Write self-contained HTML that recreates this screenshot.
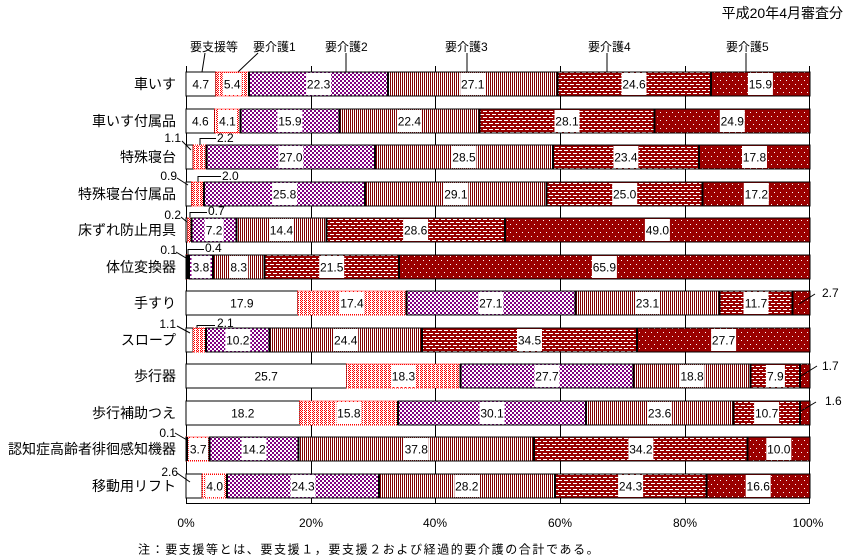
<!DOCTYPE html>
<html><head><meta charset="utf-8"><style>
html,body{margin:0;padding:0;background:#fff}
svg{display:block}
.j{font-family:"Liberation Sans","Noto Sans CJK JP",sans-serif}
.n{font-family:"Liberation Sans",sans-serif;font-size:12px}
.bars rect{stroke:#000;stroke-width:1}
.bars rect.s1{stroke:#f00;stroke-dasharray:1 1}
.s0{fill:#fff}.s1{fill:url(#p1)}.s2{fill:url(#p2)}.s3{fill:url(#p3)}.s4{fill:url(#p4)}.s5{fill:url(#p5)}
.bx rect{fill:#fff;stroke:none}
.ln{stroke:#000;stroke-width:1;fill:none}
</style></head><body>
<svg width="850" height="559" viewBox="0 0 850 559" xmlns="http://www.w3.org/2000/svg">
<defs>
<pattern id="p1" width="4" height="2" patternUnits="userSpaceOnUse"><rect width="4" height="2" fill="#fff"/><rect x="0" y="0" width="1" height="1" fill="#f00"/><rect x="2" y="0" width="1" height="1" fill="#f00"/><rect x="1" y="1" width="1" height="1" fill="#f00"/></pattern>
<pattern id="p2" width="4" height="4" patternUnits="userSpaceOnUse"><rect width="4" height="4" fill="#fff"/><rect width="2" height="2" fill="#800080"/><rect x="2" y="2" width="2" height="2" fill="#800080"/></pattern>
<pattern id="p3" width="2" height="2" patternUnits="userSpaceOnUse"><rect width="2" height="2" fill="#fff"/><rect width="1" height="2" fill="#800000"/></pattern>
<pattern id="p4" width="6" height="6" patternUnits="userSpaceOnUse"><rect width="6" height="6" fill="#990000"/><rect x="0" y="0" width="4" height="1" fill="#fff"/><rect x="3" y="3" width="3" height="1" fill="#fff"/><rect x="0" y="3" width="1" height="1" fill="#fff"/></pattern>
<pattern id="p5" width="6" height="8" patternUnits="userSpaceOnUse"><rect width="6" height="8" fill="#9a0000"/><rect x="0" y="0" width="1" height="1" fill="#fff"/><rect x="3" y="4" width="1" height="1" fill="#fff"/></pattern>
</defs>

<text class="j" x="843" y="18" font-size="14" text-anchor="end">平成20年4月審査分</text>

<g shape-rendering="crispEdges" stroke="#000" stroke-width="1">
<line x1="186.5" y1="66" x2="186.5" y2="504"/>
<line x1="311.5" y1="66" x2="311.5" y2="504"/>
<line x1="435.5" y1="66" x2="435.5" y2="504"/>
<line x1="560.5" y1="66" x2="560.5" y2="504"/>
<line x1="685.5" y1="66" x2="685.5" y2="504"/>
<line x1="809.5" y1="66" x2="809.5" y2="504"/>
<line x1="186" y1="503.5" x2="810" y2="503.5"/>
</g>

<g class="j" font-size="12">
<text x="190" y="51">要支援等</text>
<text x="253" y="51">要介護1</text>
<text x="325" y="51">要介護2</text>
<text x="445" y="51">要介護3</text>
<text x="588" y="51">要介護4</text>
<text x="726" y="51">要介護5</text>
</g>
<g class="ln">
<line x1="205" y1="53" x2="202" y2="72"/>
<line x1="258" y1="53" x2="238" y2="72"/>
<line x1="346" y1="53" x2="346" y2="72"/>
<line x1="467" y1="53" x2="467" y2="72"/>
<line x1="607" y1="53" x2="607" y2="72"/>
<line x1="746" y1="53" x2="746" y2="72"/>
</g>

<g class="bars" shape-rendering="crispEdges">
<rect class="s0" x="186" y="72" width="29.33" height="24"/>
<rect class="s1" x="215.33" y="72" width="33.69" height="24"/>
<rect class="s2" x="249.02" y="72" width="139.16" height="24"/>
<rect class="s3" x="388.18" y="72" width="169.10" height="24"/>
<rect class="s4" x="557.28" y="72" width="153.50" height="24"/>
<rect class="s5" x="710.78" y="72" width="99.22" height="24"/>
<rect class="s0" x="186" y="109" width="28.70" height="24"/>
<rect class="s1" x="214.70" y="109" width="25.59" height="24"/>
<rect class="s2" x="240.29" y="109" width="99.21" height="24"/>
<rect class="s3" x="339.50" y="109" width="139.78" height="24"/>
<rect class="s4" x="479.28" y="109" width="175.34" height="24"/>
<rect class="s5" x="654.62" y="109" width="155.38" height="24"/>
<rect class="s0" x="186" y="145" width="6.86" height="24"/>
<rect class="s1" x="192.86" y="145" width="13.73" height="24"/>
<rect class="s2" x="206.59" y="145" width="168.48" height="24"/>
<rect class="s3" x="375.07" y="145" width="177.84" height="24"/>
<rect class="s4" x="552.91" y="145" width="146.02" height="24"/>
<rect class="s5" x="698.93" y="145" width="111.07" height="24"/>
<rect class="s0" x="186" y="182" width="5.62" height="24"/>
<rect class="s1" x="191.62" y="182" width="12.48" height="24"/>
<rect class="s2" x="204.10" y="182" width="160.99" height="24"/>
<rect class="s3" x="365.09" y="182" width="181.58" height="24"/>
<rect class="s4" x="546.67" y="182" width="156.00" height="24"/>
<rect class="s5" x="702.67" y="182" width="107.33" height="24"/>
<rect class="s0" x="186" y="218" width="1.25" height="24"/>
<rect class="s1" x="187.25" y="218" width="4.37" height="24"/>
<rect class="s2" x="191.62" y="218" width="44.92" height="24"/>
<rect class="s3" x="236.54" y="218" width="89.86" height="24"/>
<rect class="s4" x="326.40" y="218" width="178.46" height="24"/>
<rect class="s5" x="504.86" y="218" width="305.14" height="24"/>
<rect class="s0" x="186" y="255" width="0.62" height="24"/>
<rect class="s1" x="186.62" y="255" width="2.50" height="24"/>
<rect class="s2" x="189.12" y="255" width="23.71" height="24"/>
<rect class="s3" x="212.83" y="255" width="51.79" height="24"/>
<rect class="s4" x="264.62" y="255" width="134.16" height="24"/>
<rect class="s5" x="398.78" y="255" width="411.22" height="24"/>
<rect class="s0" x="186" y="291" width="111.70" height="24"/>
<rect class="s1" x="297.70" y="291" width="108.57" height="24"/>
<rect class="s2" x="406.27" y="291" width="169.11" height="24"/>
<rect class="s3" x="575.38" y="291" width="144.14" height="24"/>
<rect class="s4" x="719.52" y="291" width="73.01" height="24"/>
<rect class="s5" x="792.53" y="291" width="17.47" height="24"/>
<rect class="s0" x="186" y="328" width="6.86" height="24"/>
<rect class="s1" x="192.86" y="328" width="13.11" height="24"/>
<rect class="s2" x="205.97" y="328" width="63.65" height="24"/>
<rect class="s3" x="269.62" y="328" width="152.25" height="24"/>
<rect class="s4" x="421.87" y="328" width="215.28" height="24"/>
<rect class="s5" x="637.15" y="328" width="172.85" height="24"/>
<rect class="s0" x="186" y="364" width="160.37" height="24"/>
<rect class="s1" x="346.37" y="364" width="114.19" height="24"/>
<rect class="s2" x="460.56" y="364" width="172.85" height="24"/>
<rect class="s3" x="633.41" y="364" width="117.31" height="24"/>
<rect class="s4" x="750.72" y="364" width="49.30" height="24"/>
<rect class="s5" x="800.02" y="364" width="9.98" height="24"/>
<rect class="s0" x="186" y="401" width="113.57" height="24"/>
<rect class="s1" x="299.57" y="401" width="98.59" height="24"/>
<rect class="s2" x="398.16" y="401" width="187.82" height="24"/>
<rect class="s3" x="585.98" y="401" width="147.27" height="24"/>
<rect class="s4" x="733.25" y="401" width="66.77" height="24"/>
<rect class="s5" x="800.02" y="401" width="9.98" height="24"/>
<rect class="s0" x="186" y="437" width="0.62" height="24"/>
<rect class="s1" x="186.62" y="437" width="23.09" height="24"/>
<rect class="s2" x="209.71" y="437" width="88.61" height="24"/>
<rect class="s3" x="298.32" y="437" width="235.87" height="24"/>
<rect class="s4" x="534.19" y="437" width="213.41" height="24"/>
<rect class="s5" x="747.60" y="437" width="62.40" height="24"/>
<rect class="s0" x="186" y="474" width="16.22" height="24"/>
<rect class="s1" x="202.22" y="474" width="24.96" height="24"/>
<rect class="s2" x="227.18" y="474" width="151.64" height="24"/>
<rect class="s3" x="378.82" y="474" width="175.96" height="24"/>
<rect class="s4" x="554.78" y="474" width="151.64" height="24"/>
<rect class="s5" x="706.42" y="474" width="103.58" height="24"/>
</g>

<g stroke="#000" stroke-width="2" shape-rendering="crispEdges">
<line x1="249.02" y1="72" x2="249.02" y2="96"/><line x1="388.18" y1="72" x2="388.18" y2="96"/><line x1="557.28" y1="72" x2="557.28" y2="96"/><line x1="710.78" y1="72" x2="710.78" y2="96"/>
<line x1="240.29" y1="109" x2="240.29" y2="133"/><line x1="339.50" y1="109" x2="339.50" y2="133"/><line x1="479.28" y1="109" x2="479.28" y2="133"/><line x1="654.62" y1="109" x2="654.62" y2="133"/>
<line x1="206.59" y1="145" x2="206.59" y2="169"/><line x1="375.07" y1="145" x2="375.07" y2="169"/><line x1="552.91" y1="145" x2="552.91" y2="169"/><line x1="698.93" y1="145" x2="698.93" y2="169"/>
<line x1="204.10" y1="182" x2="204.10" y2="206"/><line x1="365.09" y1="182" x2="365.09" y2="206"/><line x1="546.67" y1="182" x2="546.67" y2="206"/><line x1="702.67" y1="182" x2="702.67" y2="206"/>
<line x1="191.62" y1="218" x2="191.62" y2="242"/><line x1="236.54" y1="218" x2="236.54" y2="242"/><line x1="326.40" y1="218" x2="326.40" y2="242"/><line x1="504.86" y1="218" x2="504.86" y2="242"/>
<line x1="187" y1="255" x2="187" y2="279"/><line x1="189.12" y1="255" x2="189.12" y2="279"/><line x1="212.83" y1="255" x2="212.83" y2="279"/><line x1="264.62" y1="255" x2="264.62" y2="279"/><line x1="398.78" y1="255" x2="398.78" y2="279"/>
<line x1="406.27" y1="291" x2="406.27" y2="315"/><line x1="575.38" y1="291" x2="575.38" y2="315"/><line x1="719.52" y1="291" x2="719.52" y2="315"/><line x1="792.53" y1="291" x2="792.53" y2="315"/>
<line x1="205.97" y1="328" x2="205.97" y2="352"/><line x1="269.62" y1="328" x2="269.62" y2="352"/><line x1="421.87" y1="328" x2="421.87" y2="352"/><line x1="637.15" y1="328" x2="637.15" y2="352"/>
<line x1="460.56" y1="364" x2="460.56" y2="388"/><line x1="633.41" y1="364" x2="633.41" y2="388"/><line x1="750.72" y1="364" x2="750.72" y2="388"/><line x1="800.02" y1="364" x2="800.02" y2="388"/>
<line x1="398.16" y1="401" x2="398.16" y2="425"/><line x1="585.98" y1="401" x2="585.98" y2="425"/><line x1="733.25" y1="401" x2="733.25" y2="425"/><line x1="800.02" y1="401" x2="800.02" y2="425"/>
<line x1="187" y1="437" x2="187" y2="461"/><line x1="209.71" y1="437" x2="209.71" y2="461"/><line x1="298.32" y1="437" x2="298.32" y2="461"/><line x1="534.19" y1="437" x2="534.19" y2="461"/><line x1="747.60" y1="437" x2="747.60" y2="461"/>
<line x1="227.18" y1="474" x2="227.18" y2="498"/><line x1="378.82" y1="474" x2="378.82" y2="498"/><line x1="554.78" y1="474" x2="554.78" y2="498"/><line x1="706.42" y1="474" x2="706.42" y2="498"/>
</g>

<g class="bx">
<rect x="191.2" y="73" width="19" height="22"/><rect x="222.7" y="73" width="19" height="22"/><rect x="306.1" y="73" width="25" height="22"/><rect x="460.2" y="73" width="25" height="22"/><rect x="621.5" y="73" width="25" height="22"/><rect x="747.9" y="73" width="25" height="22"/>
<rect x="190.9" y="110" width="19" height="22"/><rect x="218.0" y="110" width="19" height="22"/><rect x="277.4" y="110" width="25" height="22"/><rect x="396.9" y="110" width="25" height="22"/><rect x="554.5" y="110" width="25" height="22"/><rect x="719.8" y="110" width="25" height="22"/>
<rect x="278.3" y="146" width="25" height="22"/><rect x="451.5" y="146" width="25" height="22"/><rect x="613.4" y="146" width="25" height="22"/><rect x="742.0" y="146" width="25" height="22"/>
<rect x="272.1" y="183" width="25" height="22"/><rect x="443.4" y="183" width="25" height="22"/><rect x="612.2" y="183" width="25" height="22"/><rect x="743.8" y="183" width="25" height="22"/>
<rect x="204.6" y="219" width="19" height="22"/><rect x="269.0" y="219" width="25" height="22"/><rect x="403.1" y="219" width="25" height="22"/><rect x="644.9" y="219" width="25" height="22"/>
<rect x="191.5" y="256" width="19" height="22"/><rect x="229.2" y="256" width="19" height="22"/><rect x="319.2" y="256" width="25" height="22"/><rect x="591.9" y="256" width="25" height="22"/>
<rect x="229.4" y="292" width="25" height="22"/><rect x="339.5" y="292" width="25" height="22"/><rect x="478.3" y="292" width="25" height="22"/><rect x="635.0" y="292" width="25" height="22"/><rect x="743.5" y="292" width="25" height="22"/>
<rect x="225.3" y="329" width="25" height="22"/><rect x="333.2" y="329" width="25" height="22"/><rect x="517.0" y="329" width="25" height="22"/><rect x="711.1" y="329" width="25" height="22"/>
<rect x="253.7" y="365" width="25" height="22"/><rect x="391.0" y="365" width="25" height="22"/><rect x="534.5" y="365" width="25" height="22"/><rect x="679.6" y="365" width="25" height="22"/><rect x="765.9" y="365" width="19" height="22"/>
<rect x="230.3" y="402" width="25" height="22"/><rect x="336.4" y="402" width="25" height="22"/><rect x="479.6" y="402" width="25" height="22"/><rect x="647.1" y="402" width="25" height="22"/><rect x="754.1" y="402" width="25" height="22"/>
<rect x="188.7" y="438" width="19" height="22"/><rect x="241.5" y="438" width="25" height="22"/><rect x="403.8" y="438" width="25" height="22"/><rect x="628.4" y="438" width="25" height="22"/><rect x="766.3" y="438" width="25" height="22"/>
<rect x="205.2" y="475" width="19" height="22"/><rect x="290.5" y="475" width="25" height="22"/><rect x="454.3" y="475" width="25" height="22"/><rect x="618.1" y="475" width="25" height="22"/><rect x="745.7" y="475" width="25" height="22"/>
</g>

<g class="n" text-anchor="middle">
<text x="200.67" y="88.5">4.7</text><text x="232.18" y="88.5">5.4</text><text x="318.6" y="88.5">22.3</text><text x="472.73" y="88.5">27.1</text><text x="634.03" y="88.5">24.6</text><text x="760.39" y="88.5">15.9</text>
<text x="200.35" y="125.5">4.6</text><text x="227.5" y="125.5">4.1</text><text x="289.9" y="125.5">15.9</text><text x="409.39" y="125.5">22.4</text><text x="566.95" y="125.5">28.1</text><text x="732.31" y="125.5">24.9</text>
<text x="290.83" y="161.5">27.0</text><text x="463.99" y="161.5">28.5</text><text x="625.92" y="161.5">23.4</text><text x="754.47" y="161.5">17.8</text>
<text x="284.59" y="198.5">25.8</text><text x="455.88" y="198.5">29.1</text><text x="624.67" y="198.5">25.0</text><text x="756.33" y="198.5">17.2</text>
<text x="214.08" y="234.5">7.2</text><text x="281.47" y="234.5">14.4</text><text x="415.63" y="234.5">28.6</text><text x="657.43" y="234.5">49.0</text>
<text x="200.98" y="271.5">3.8</text><text x="238.73" y="271.5">8.3</text><text x="331.7" y="271.5">21.5</text><text x="604.39" y="271.5">65.9</text>
<text x="241.85" y="307.5">17.9</text><text x="351.98" y="307.5">17.4</text><text x="490.82" y="307.5">27.1</text><text x="647.45" y="307.5">23.1</text><text x="756.02" y="307.5">11.7</text>
<text x="237.79" y="344.5">10.2</text><text x="345.74" y="344.5">24.4</text><text x="529.51" y="344.5">34.5</text><text x="723.58" y="344.5">27.7</text>
<text x="266.18" y="380.5">25.7</text><text x="403.46" y="380.5">18.3</text><text x="546.98" y="380.5">27.7</text><text x="692.06" y="380.5">18.8</text><text x="775.37" y="380.5">7.9</text>
<text x="242.78" y="417.5">18.2</text><text x="348.86" y="417.5">15.8</text><text x="492.07" y="417.5">30.1</text><text x="659.61" y="417.5">23.6</text><text x="766.63" y="417.5">10.7</text>
<text x="198.17" y="453.5">3.7</text><text x="254.02" y="453.5">14.2</text><text x="416.26" y="453.5">37.8</text><text x="640.9" y="453.5">34.2</text><text x="778.8" y="453.5">10.0</text>
<text x="214.7" y="490.5">4.0</text><text x="303.0" y="490.5">24.3</text><text x="466.8" y="490.5">28.2</text><text x="630.6" y="490.5">24.3</text><text x="758.21" y="490.5">16.6</text>
</g>

<g class="n" text-anchor="end">
<text x="181" y="142">1.1</text>
<text x="177" y="180">0.9</text>
<text x="181" y="219">0.2</text>
<text x="177" y="254">0.1</text>
<text x="176" y="328">1.1</text>
<text x="176" y="437">0.1</text>
<text x="178" y="476">2.6</text>
</g>
<g class="n">
<text x="217" y="142">2.2</text>
<text x="222" y="180">2.0</text>
<text x="208" y="215">0.7</text>
<text x="205" y="252">0.4</text>
<text x="217" y="327">2.1</text>
<text x="822" y="297">2.7</text>
<text x="822" y="370">1.7</text>
<text x="825" y="405">1.6</text>
</g>
<g class="ln">
<line x1="182" y1="141" x2="191" y2="150"/>
<line x1="177" y1="178" x2="188" y2="185"/>
<line x1="181" y1="217" x2="187" y2="222"/>
<line x1="176" y1="252" x2="186" y2="258"/>
<line x1="177" y1="326" x2="190" y2="333"/>
<line x1="175" y1="433" x2="187" y2="440"/>
<line x1="177" y1="473" x2="190" y2="482"/>
<polyline points="200,145 200,138.5 216,138.5"/>
<polyline points="198,182 198,176.5 221,176.5"/>
<polyline points="190,218 190,212.5 207,212.5"/>
<polyline points="188,255 188,249.5 204,249.5"/>
<polyline points="197,328 197,325.5 215,325.5"/>
<line x1="799" y1="304" x2="815" y2="294"/>
<line x1="801" y1="376" x2="817" y2="366"/>
<line x1="801" y1="411" x2="816" y2="402"/>
</g>

<g class="j" font-size="14" text-anchor="end">
<text x="176" y="89">車いす</text>
<text x="176" y="126">車いす付属品</text>
<text x="176" y="162">特殊寝台</text>
<text x="176" y="199">特殊寝台付属品</text>
<text x="176" y="235">床ずれ防止用具</text>
<text x="176" y="272">体位変換器</text>
<text x="176" y="308">手すり</text>
<text x="176" y="345">スロープ</text>
<text x="176" y="381">歩行器</text>
<text x="176" y="418">歩行補助つえ</text>
<text x="176" y="454">認知症高齢者徘徊感知機器</text>
<text x="176" y="491">移動用リフト</text>
</g>

<g class="n" text-anchor="middle">
<text x="186" y="527">0%</text>
<text x="311" y="527">20%</text>
<text x="435" y="527">40%</text>
<text x="560" y="527">60%</text>
<text x="685" y="527">80%</text>
<text x="808" y="527">100%</text>
</g>

<text class="j" x="138" y="553.5" font-size="12" letter-spacing="1.6">注：要支援等とは、要支援１，要支援２および経過的要介護の合計である。</text>
</svg>
</body></html>
